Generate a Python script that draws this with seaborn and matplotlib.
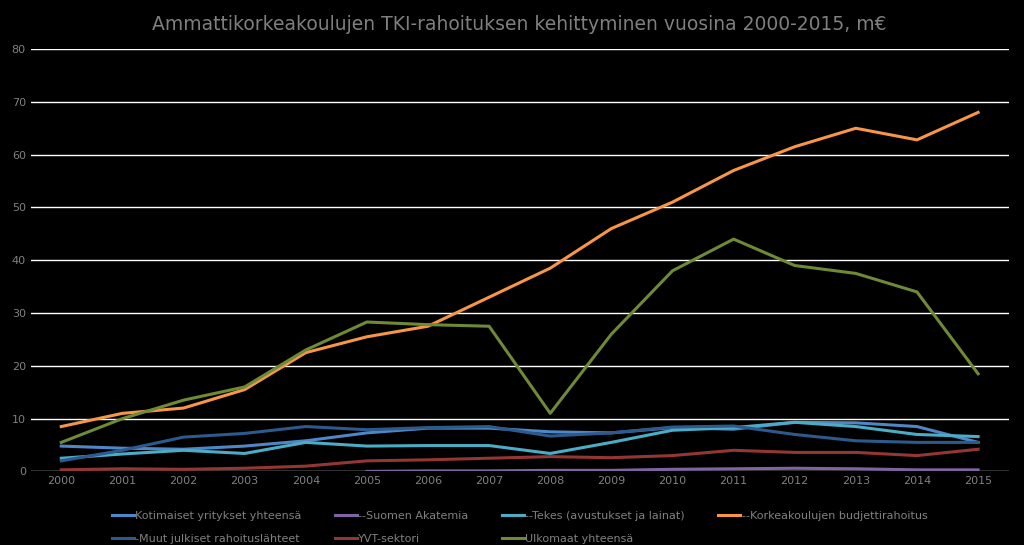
import numpy as np
import pandas as pd
import matplotlib
matplotlib.use('Agg')
import matplotlib.pyplot as plt
import seaborn as sns

years = list(range(2000, 2016))
kotimaiset = [4.8, 4.4, 4.2, 4.8, 5.8, 7.3, 8.2, 8.2, 7.5, 7.3, 8.3, 8.0, 9.3, 9.2, 8.5, 5.5]
akatemia = [np.nan] * 5 + [0.0, 0.1, 0.1, 0.2, 0.2, 0.4, 0.5, 0.6, 0.5, 0.3, 0.3]
tekes = [2.5, 3.3, 4.0, 3.4, 5.5, 4.8, 4.9, 4.9, 3.4, 5.5, 7.8, 8.3, 9.3, 8.5, 7.0, 6.6]
budjetti = [8.5, 11, 12, 15.5, 22.5, 25.5, 27.5, 33, 38.5, 46, 51, 57, 61.5, 65, 62.8, 68]
muut = [2.0, 4.0, 6.5, 7.2, 8.5, 7.9, 8.3, 8.5, 6.7, 7.3, 8.4, 8.6, 7.0, 5.8, 5.5, 5.5]
yvt = [0.3, 0.5, 0.4, 0.6, 1.0, 2.0, 2.2, 2.5, 2.8, 2.6, 3.0, 4.0, 3.6, 3.6, 3.0, 4.2]
ulkomaat = [5.5, 10, 13.5, 16, 23, 28.3, 27.8, 27.5, 11, 26, 38, 44, 39, 37.5, 34, 18.5]

series = [
    ('Kotimaiset yritykset yhteensä', kotimaiset, '#4f86c6'),
    ('--Suomen Akatemia', akatemia, '#8064a2'),
    ('--Tekes (avustukset ja lainat)', tekes, '#4bacc6'),
    ('--Korkeakoulujen budjettirahoitus', budjetti, '#f79646'),
    ('-Muut julkiset rahoituslähteet', muut, '#2c5a8c'),
    ('YVT-sektori', yvt, '#943634'),
    ('Ulkomaat yhteensä', ulkomaat, '#6f8a36'),
]

rows = []
for name, vals, _ in series:
    for i, y in enumerate(years):
        rows.append({'idx': i, 'value': vals[i], 'series': name})
df = pd.DataFrame(rows)
palette = {name: c for name, _, c in series}

fig = plt.figure(figsize=(10.24, 5.45), dpi=100, facecolor='black')
ax = fig.add_axes([0.03, 0.135, 0.955, 0.775], facecolor='black')
sns.lineplot(data=df, x='idx', y='value', hue='series', palette=palette,
             linewidth=2.2, ax=ax)

ax.set_ylim(0, 80)
ax.set_xlim(-0.5, 15.5)
ax.set_yticks(range(0, 81, 10))
ax.set_xticks(range(16))
ax.set_xticklabels([str(y) for y in years])
ax.yaxis.grid(True, color='white', linewidth=1)
ax.xaxis.grid(False)
ax.set_axisbelow(True)
for s in ax.spines.values():
    s.set_visible(False)
ax.tick_params(colors='#808080', labelsize=8, length=0)
ax.set_xlabel('')
ax.set_ylabel('')
ax.set_title('Ammattikorkeakoulujen TKI-rahoituksen kehittyminen vuosina 2000-2015, m€',
             color='#7f7f7f', fontsize=13.5, pad=14)

h, l = ax.get_legend_handles_labels()
order = [0, 4, 1, 5, 2, 6, 3]
ax.legend([h[i] for i in order], [l[i] for i in order], loc='upper center',
          bbox_to_anchor=(0.5, -0.07), ncol=4, frameon=False, fontsize=8,
          labelcolor='#808080', handlelength=2.0, columnspacing=3,
          handletextpad=0.1, labelspacing=1.2)

plt.savefig('out.png', dpi=100, facecolor='black')
